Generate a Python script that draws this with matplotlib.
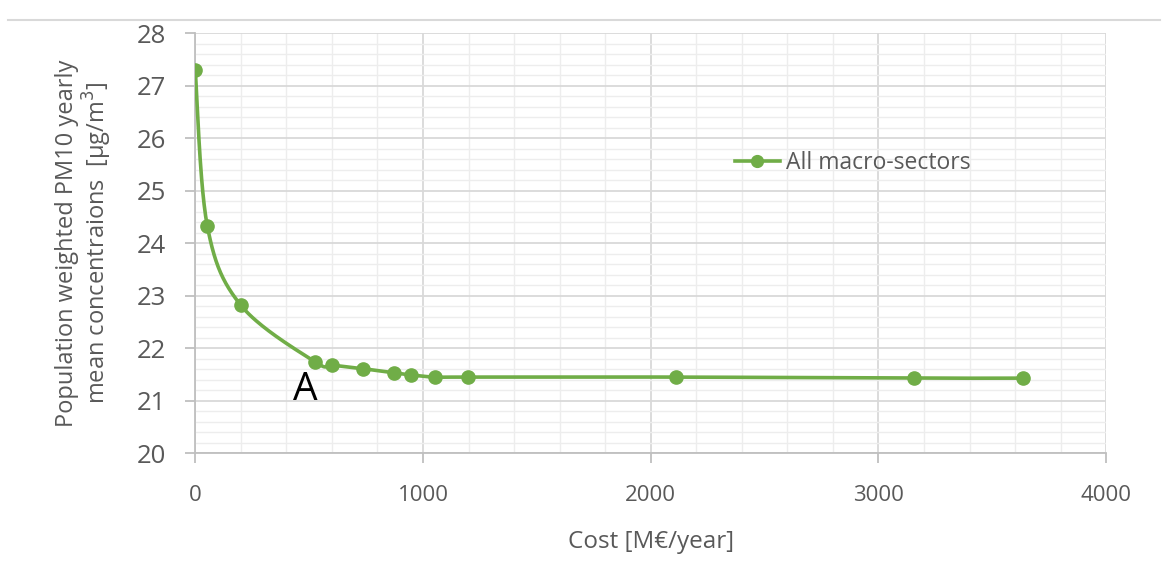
import matplotlib.pyplot as plt
import numpy as np
from matplotlib.lines import Line2D
from matplotlib.ticker import MultipleLocator

plt.rcParams['font.family'] = ['Open Sans', 'DejaVu Sans']

# values
cost = [0, 53, 200, 526, 600, 737, 873, 947, 1053, 1197, 2110, 3158, 3636]
pm10 = [27.3, 24.33, 22.82, 21.74, 21.68, 21.61, 21.53, 21.49, 21.45, 21.45, 21.45, 21.43, 21.43]
series_name = 'All macro-sectors'
label_point = 'A'

green = '#70AD47'
text_gray = '#595959'


def smooth_curve(xs, ys, n=40, tension=0.5):
    """Catmull-Rom style smoothing like Excel's smoothed line."""
    xs = np.asarray(xs, float)
    ys = np.asarray(ys, float)
    px = np.concatenate([[xs[0]], xs, [xs[-1]]])
    py = np.concatenate([[ys[0]], ys, [ys[-1]]])
    outx, outy = [], []
    for i in range(1, len(px) - 2):
        p0 = np.array([px[i - 1], py[i - 1]])
        p1 = np.array([px[i], py[i]])
        p2 = np.array([px[i + 1], py[i + 1]])
        p3 = np.array([px[i + 2], py[i + 2]])
        c1 = p1 + (p2 - p0) * tension / 3
        c2 = p2 - (p3 - p1) * tension / 3
        t = np.linspace(0, 1, n)[:, None]
        b = ((1 - t) ** 3) * p1 + 3 * ((1 - t) ** 2) * t * c1 + 3 * (1 - t) * t ** 2 * c2 + t ** 3 * p2
        outx.extend(b[:, 0])
        outy.extend(b[:, 1])
    return np.array(outx), np.array(outy)


fig = plt.figure(figsize=(11.62, 5.63), dpi=100)
ax = fig.add_axes([0.168, 0.195, 0.784, 0.746])

sx, sy = smooth_curve(cost, pm10)
ax.plot(sx, sy, color=green, lw=2.6, zorder=3)
ax.plot(cost, pm10, 'o', color=green, ms=9.5, zorder=4)
legend_handle = Line2D([0], [0], color=green, lw=2.6, marker='o', ms=8.5)

ax.set_xlim(0, 4000)
ax.set_ylim(20, 28)
ax.xaxis.set_major_locator(MultipleLocator(1000))
ax.xaxis.set_minor_locator(MultipleLocator(200))
ax.yaxis.set_major_locator(MultipleLocator(1))
ax.yaxis.set_minor_locator(MultipleLocator(0.2))
ax.grid(which='major', color='#D9D9D9', lw=1.3, zorder=0)
ax.grid(which='minor', color='#EDEDED', lw=1.0, zorder=0)
ax.set_axisbelow(True)

for s in ['top', 'right']:
    ax.spines[s].set_visible(False)
for s in ['left', 'bottom']:
    ax.spines[s].set_color('#BFBFBF')
    ax.spines[s].set_linewidth(1.3)

ax.tick_params(which='major', length=7, color='#BFBFBF', width=1.3, labelcolor=text_gray)
ax.tick_params(axis='x', which='major', labelsize=16, pad=16)
ax.tick_params(axis='y', which='major', labelsize=18.5, pad=14)
ax.tick_params(which='minor', length=0)

ax.set_xlabel('Cost [M€/year]', fontsize=17.5, color=text_gray, labelpad=17)
ax.set_ylabel('Population weighted PM10 yearly\nmean concentraions  [µg/m$^3$]',
              fontsize=17, color=text_gray, labelpad=16, linespacing=1.1)

ax.text(482, 21.2, label_point, fontsize=28, color='black', ha='center', va='center')

leg = ax.legend([legend_handle], [series_name], loc='center left', bbox_to_anchor=(0.592, 0.69),
                frameon=False, fontsize=16.5, handlelength=2.0, handletextpad=0.25,
                borderaxespad=0, borderpad=0)
for t in leg.get_texts():
    t.set_color(text_gray)

fig.add_artist(Line2D([0.007, 0.998], [0.965, 0.965], color='#D9D9D9', lw=1.5))

fig.savefig('out.png', dpi=100, facecolor='white')
